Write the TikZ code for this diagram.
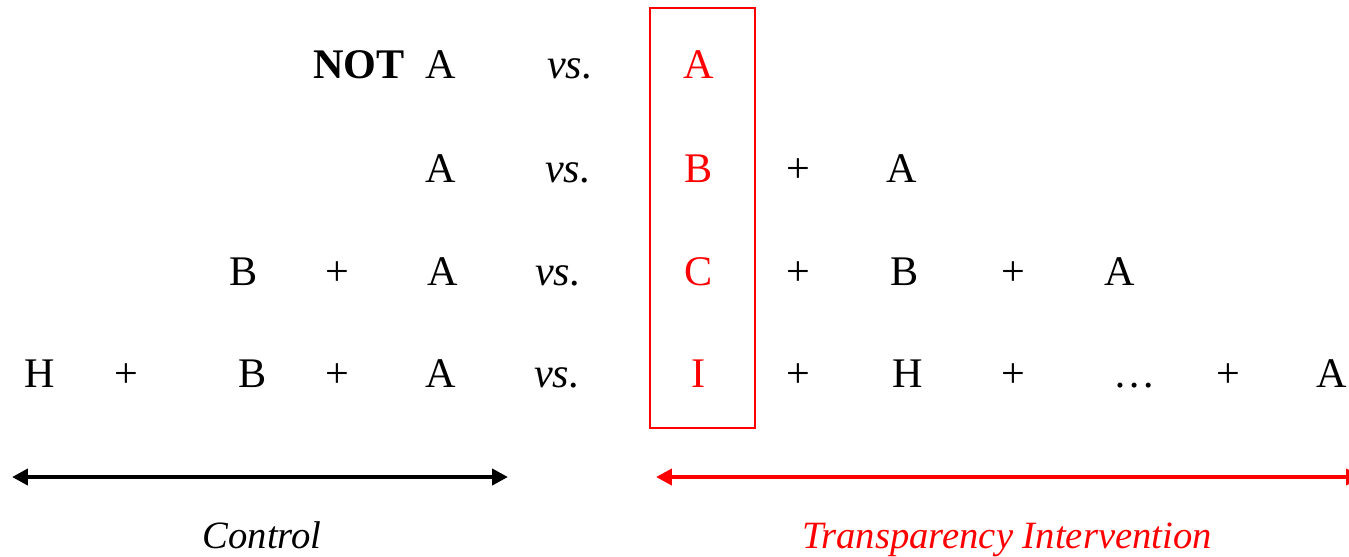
\documentclass[tikz,border=0pt]{standalone}
\usepackage{fontspec}
\setmainfont{Liberation Serif}
\usetikzlibrary{arrows.meta}

\tikzset{
  term/.style={anchor=base, inner sep=0, font=\fontsize{24}{28}\selectfont},
  pick/.style={term, red},
  vsword/.style={term, font=\fontsize{24}{28}\selectfont\itshape},
  caption/.style={term, font=\fontsize{22}{26}\selectfont\itshape},
  span/.style={line width=2.5pt, {Triangle[width=9pt,length=9pt]}-{Triangle[width=9pt,length=9pt]}},
}

\begin{document}
\begin{tikzpicture}[x=0.02cm, y=-0.02cm]
      \useasboundingbox (0,0) rectangle (1349,556);

      % row 1
      \node [term, font=\fontsize{24}{28}\selectfont\bfseries] (not1) at (359, 78) {NOT};
      \node [term] (a1) at (441, 78) {A};
      \node [vsword] (vs1) at (570, 78) {vs.};
      \node [pick] (r1) at (699, 78) {A};

      % row 2
      \node [term] (a2) at (441, 182) {A};
      \node [vsword] (vs2) at (568, 182) {vs.};
      \node [pick] (r2) at (699, 182) {B};
      \node [term] (p2a) at (798, 182) {+};
      \node [term] (a2r) at (902, 182) {A};

      % row 3
      \node [term] (b3) at (244, 285) {B};
      \node [term] (p3a) at (337, 285) {+};
      \node [term] (a3) at (443, 285) {A};
      \node [vsword] (vs3) at (558, 285) {vs.};
      \node [pick] (r3) at (699, 285) {C};
      \node [term] (p3b) at (798, 285) {+};
      \node [term] (b3r) at (905, 285) {B};
      \node [term] (p3c) at (1013, 285) {+};
      \node [term] (a3r) at (1120, 285) {A};

      % row 4
      \node [term] (h4) at (40, 387) {H};
      \node [term] (p4a) at (126, 387) {+};
      \node [term] (b4) at (253, 387) {B};
      \node [term] (p4b) at (337, 387) {+};
      \node [term] (a4) at (441, 387) {A};
      \node [vsword] (vs4) at (557, 387) {vs.};
      \node [pick] (r4) at (699, 387) {I};
      \node [term] (p4c) at (798, 387) {+};
      \node [term] (h4r) at (908, 387) {H};
      \node [term] (p4d) at (1013, 387) {+};
      \node [term] (dots4) at (1135, 387) {\dots};
      \node [term] (p4e) at (1228, 387) {+};
      \node [term] (a4r) at (1332, 387) {A};

      % highlighted column
      \node [draw=red, line width=1.2pt, minimum width=0.02cm*105, minimum height=0.02cm*420, inner sep=0] (box) at (702.5, 218) {};

      % ranges
      \coordinate (cl) at (12, 477);
      \coordinate (cr) at (508, 477);
      \coordinate (tl) at (656, 477);
      \coordinate (tr) at (1362, 477);
      \draw [span] (cl) -- (cr);
      \draw [span, red] (tl) -- (tr);

      \node [caption] (ctrl) at (262, 548) {Control};
      \node [caption, red] (trans) at (1007, 548) {Transparency Intervention};
\end{tikzpicture}
\end{document}
